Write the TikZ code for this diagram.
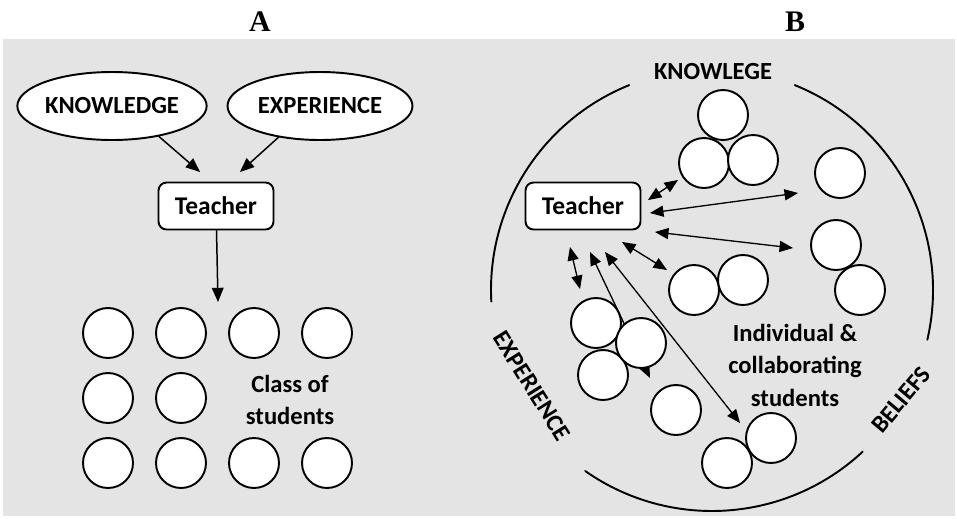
\documentclass[tikz,border=0pt]{standalone}
\usepackage{fontspec}
\setmainfont{Carlito}
\newfontfamily\titlefont{Liberation Serif}
\usetikzlibrary{arrows}
\usetikzlibrary{shapes.geometric}
\definecolor{panelgray}{HTML}{E4E4E4}

\begin{document}
\begin{tikzpicture}[x=0.02cm, y=-0.02cm, line cap = round, line join = round, >=triangle 45]
\tikzstyle{stud}=[circle, draw=black, fill=white, line width=1.1pt, minimum size=1cm, inner sep=0pt]
\tikzstyle{idea}=[ellipse, draw=black, fill=white, line width=1.1pt, minimum height=1.36cm, inner sep=0pt, font=\fontsize{14}{17}\selectfont\bfseries]
\tikzstyle{teach}=[rectangle, rounded corners=0.16cm, draw=black, fill=white, line width=1.1pt, minimum width=2.3cm, minimum height=0.94cm, font=\fontsize{14.5}{17}\selectfont\bfseries]
\tikzstyle{lbl}=[align=center, inner sep=0pt, font=\fontsize{14}{18.5}\selectfont\bfseries]
\tikzstyle{panel}=[inner sep=0pt, font=\titlefont\fontsize{17}{20}\selectfont\bfseries]
\tikzstyle{link}=[<->, line width=0.75pt]

\useasboundingbox (0,0) rectangle (957,518);
\fill[panelgray] (3,39) rectangle (955,516);

\node[panel] (titleA) at (260,22) {A};
\node[panel] (titleB) at (795,22) {B};

% panel A
\node[idea, minimum width=3.54cm] (know) at (112,106) {KNOWLEDGE};
\node[idea, minimum width=3.7cm] (exper) at (320,106) {EXPERIENCE};
\node[teach] (teachA) at (216,206) {Teacher};
\coordinate (kin) at (200,172);
\coordinate (ein) at (240,172);
\coordinate (gridtop) at (218,302);
\draw[->, line width=0.85pt] (know.-33) -- (kin);
\draw[->, line width=0.85pt] (exper.-143) -- (ein);
\draw[->, line width=0.85pt] (teachA) -- (gridtop);

\foreach \x [count=\c] in {108,181,254,327} {
  \node[stud] (top\c) at (\x,333) {};
  \node[stud] (bot\c) at (\x,463) {};
}
\foreach \x [count=\c] in {108,181}
  \node[stud] (mid\c) at (\x,398) {};
\node[lbl] (classA) at (290,400) {Class of\\students};

% panel B
\coordinate (ctr) at (712,290);
\draw[line width=1.1pt] ([shift={(248:221)}]ctr) arc (248:177:221);
\draw[line width=1.1pt] ([shift={(125:221)}]ctr) arc (125:47:221);
\draw[line width=1.1pt] ([shift={(13:221)}]ctr) arc (13:-68:221);
\node[lbl] (knowB) at (713,72) {KNOWLEGE};
\node[lbl, rotate=-58] (experB) at (532,386) {EXPERIENCE};
\node[lbl, rotate=50] (belief) at (901,400) {BELIEFS};

\node[teach] (teachB) at (583,206) {Teacher};
\coordinate (t1) at (648,200); \coordinate (e1) at (678,180);
\coordinate (t2) at (650,213); \coordinate (e2) at (798,193);
\coordinate (t3) at (655,232); \coordinate (e3) at (793,248);
\coordinate (t4) at (622,242); \coordinate (e4) at (667,270);
\coordinate (t5) at (570,247); \coordinate (e5) at (580,289);
\coordinate (t6) at (590,252); \coordinate (e6) at (650,378);
\coordinate (t7) at (605,252); \coordinate (e7) at (740,423);
\foreach \i in {1,...,7}
  \draw[link] (t\i) -- (e\i);

\node[stud] (tri1) at (723,115) {};
\node[stud] (tri2) at (704,163) {};
\node[stud] (tri3) at (753,160) {};
\node[stud] (solo1) at (840,173) {};
\node[stud] (pairR1) at (836,245) {};
\node[stud] (pairR2) at (860,290) {};
\node[stud] (pairM1) at (694,290) {};
\node[stud] (pairM2) at (743,280) {};
\node[stud] (clu1) at (596,323) {};
\node[stud] (clu3) at (603,375) {};
\node[stud] (clu2) at (641,343) {};
\node[stud] (solo2) at (676,410) {};
\node[stud] (pairB1) at (771,438) {};
\node[stud] (pairB2) at (727,463) {};
\node[lbl] (indiv) at (795,365) {Individual \&\\collaborating\\students};
\end{tikzpicture}
\end{document}
